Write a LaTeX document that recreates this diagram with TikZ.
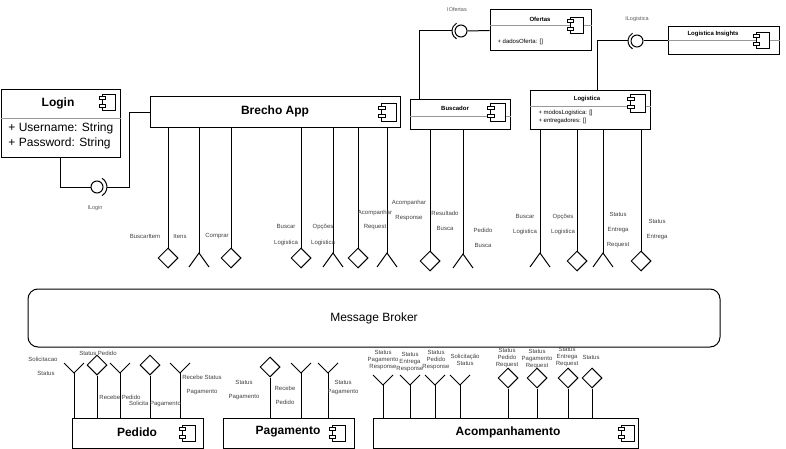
\documentclass[tikz,border=0pt]{standalone}
\usepackage{fontspec}
\setmainfont{Liberation Sans}
\usetikzlibrary{calc,shapes.geometric}
\tikzset{
  compicon/.pic={
    \draw[line width=0.8pt, fill=white] (-0.3,-0.5) rectangle (0.5,0.5);
    \draw[line width=0.8pt, fill=white] (-0.5,-0.32) rectangle (-0.1,-0.14);
    \draw[line width=0.8pt, fill=white] (-0.5,0.14) rectangle (-0.1,0.32);
  }
}
\begin{document}
\begin{tikzpicture}[x=1pt,y=-1pt, line width=1pt,
  box/.style 2 args={draw, line width=1pt, fill=white, minimum width=#1pt, minimum height=#2pt, inner sep=0pt},
  title/.style={font=\bfseries\fontsize{12}{14}\selectfont, inner sep=0pt},
  stitle/.style={font=\bfseries\fontsize{6}{7}\selectfont, inner sep=0pt},
  attr/.style={font=\fontsize{12}{15}\selectfont, inner sep=0pt, anchor=west},
  sattr/.style={font=\fontsize{6}{8}\selectfont, inner sep=0pt, anchor=west},
  lbl/.style={font=\fontsize{6}{#1}\selectfont, text=black!75, align=center, inner sep=0pt},
  lbl/.default=7,
  divider/.style={draw=black!40, line width=0.6pt},
  dia/.style={draw, diamond, minimum width=20pt, minimum height=20pt, inner sep=0pt, fill=white},
  ball/.style={draw, circle, minimum size=12pt, inner sep=0pt},
  ifc/.style={font=\fontsize{5.5}{6}\selectfont, text=black!65, inner sep=0pt}
]
\useasboundingbox (0,0) rectangle (786,449);

% ---------- Login ----------
\node[box={119}{68}] (login) at (60.5,124) {};
\draw[divider] ($(login.north west)+(0,29)$) -- ($(login.north east)+(0,29)$);
\node[title] (loginT) at (58,103) {Login};
\pic[scale=16] at (107,102) {compicon};
\node[attr] (loginA) at (8,128) {+ Username: String};
\node[attr] (loginB) at (8,143) {+ Password: String};

% ---------- Brecho App ----------
\node[box={250}{31}] (brecho) at (275,112.5) {};
\node[title] (brechoT) at (275,111) {Brecho App};
\pic[scale=18] at (387,112) {compicon};

% ---------- Buscador ----------
\node[box={100}{30}] (buscador) at (460,115) {};
\draw[divider] ($(buscador.north west)+(0,17)$) -- ($(buscador.north east)+(0,17)$);
\node[stitle] (buscadorT) at (455,108) {Buscador};
\pic[scale=18] at (496,112) {compicon};

% ---------- Ofertas ----------
\node[box={101}{41}] (ofertas) at (540.5,30.5) {};
\draw[divider] ($(ofertas.north west)+(0,16)$) -- ($(ofertas.north east)+(0,16)$);
\node[stitle] (ofertasT) at (540,19) {Ofertas};
\pic[scale=16] at (575,25) {compicon};
\node[sattr] (ofertasA) at (497,42) {+ dadosOferta: []};

% ---------- Logistica ----------
\node[box={120}{39}] (logistica) at (590,110.5) {};
\draw[divider] ($(logistica.north west)+(0,16)$) -- ($(logistica.north east)+(0,16)$);
\node[stitle] (logisticaT) at (587,99) {Logistica};
\pic[scale=18] at (636,103) {compicon};
\node[sattr] (logisticaA) at (538,113) {+ modosLogistica: []};
\node[sattr] (logisticaB) at (538,121) {+ entregadores: []};

% ---------- Logistica Insights ----------
\node[box={111}{28}] (insights) at (723.5,41) {};
\draw[divider] ($(insights.north west)+(0,14)$) -- ($(insights.north east)+(0,14)$);
\node[stitle] (insightsT) at (713,34) {Logistica Insights};
\pic[scale=16] at (761,40) {compicon};

% ---------- Interfaces ----------
\node[ball] (ilogin) at (97,187) {};
\draw (ilogin.center) ++(60:10) arc[start angle=60, end angle=-60, radius=10];
\coordinate (sockL) at ($(ilogin.center)+(10,0)$);
\node[ifc] (iloginT) at (95,208) {ILogin};
\draw (login.south) |- (ilogin.west);
\draw (sockL) -| ($(brecho.west)+(-20,0)$) -- (brecho.west);

\node[ball] (iofertas) at (461,31) {};
\draw (iofertas.center) ++(120:9) arc[start angle=120, end angle=240, radius=9];
\coordinate (sockO) at ($(iofertas.center)+(-9,0)$);
\node[ifc] (iofertasT) at (457,10) {IOfertas};
\draw ($(buscador.north west)+(10,0)$) |- (sockO);
\draw (iofertas.east) -- (ofertas.west);

\node[ball] (ilog) at (637,41) {};
\draw (ilog.center) ++(120:9) arc[start angle=120, end angle=240, radius=9];
\coordinate (sockG) at ($(ilog.center)+(-9,0)$);
\node[ifc] (ilogT) at (637,19) {ILogistica};
\draw ($(logistica.north west)+(68,0)$) |- (sockG);
\draw (ilog.east) -- (insights.west);

% ---------- Message Broker ----------
\node[draw, rounded corners=10pt, minimum width=692pt, minimum height=58pt, inner sep=0pt,
      font=\fontsize{12}{14}\selectfont] (mb) at (374,318) {Message Broker};

% ---------- Bottom components ----------
\node[box={131}{30}] (pedido) at (137.5,433) {};
\node[title] (pedidoT) at (137,432) {Pedido};
\pic[scale=16] at (187,433) {compicon};

\node[box={131}{30}] (pagamento) at (288.5,433) {};
\node[title] (pagamentoT) at (288,432) {Pagamento};
\pic[scale=16] at (337,433) {compicon};

\node[box={265}{30}] (acomp) at (505.5,433) {};
\node[title] (acompT) at (508,432) {Acompanhamento};
\pic[scale=16] at (626,433) {compicon};

% ---------- Brecho App ports ----------
\foreach \x/\n in {168/a1,231/a3,301/a4,358/a6} {
  \node[dia] (\n) at (\x,258) {};
  \draw (\n.north |- brecho.south) -- (\n.north);
}
\foreach \x/\n in {199/a2,333/a5,387/a7} {
  \coordinate (\n) at (\x,253);
  \draw (\n |- brecho.south) -- (\n);
  \draw (\n) ++(-10,14) -- (\n) -- ++(10,14);
}
% ---------- Buscador ports ----------
\node[dia] (b1) at (430,261) {};
\draw (b1.north |- buscador.south) -- (b1.north);
\coordinate (b2) at (463,254);
\draw (b2 |- buscador.south) -- (b2);
\draw (b2) ++(-10,14) -- (b2) -- ++(10,14);
% ---------- Logistica ports ----------
\foreach \x/\n in {540/g1,603/g3} {
  \coordinate (\n) at (\x,253);
  \draw (\n |- logistica.south) -- (\n);
  \draw (\n) ++(-10,14) -- (\n) -- ++(10,14);
}
\foreach \x/\n in {577/g2,641/g4} {
  \node[dia] (\n) at (\x,261) {};
  \draw (\n.north |- logistica.south) -- (\n.north);
}
% ---------- Pedido ports ----------
\foreach \x/\n in {74/p1,120/p3,180/p5} {
  \coordinate (\n) at (\x,373);
  \draw (\n) -- (\n |- pedido.north);
  \draw (\n) ++(-10,-10) -- (\n) -- ++(10,-10);
}
\foreach \x/\n in {97/p2,150/p4} {
  \node[dia] (\n) at (\x,365) {};
  \draw (\n.south) -- (\n.south |- pedido.north);
}
% ---------- Pagamento ports ----------
\node[dia] (q1) at (270,367) {};
\draw (q1.south) -- (q1.south |- pagamento.north);
\foreach \x/\n in {301/q2,328/q3} {
  \coordinate (\n) at (\x,373);
  \draw (\n) -- (\n |- pagamento.north);
  \draw (\n) ++(-10,-10) -- (\n) -- ++(10,-10);
}
% ---------- Acompanhamento ports ----------
\foreach \x/\n in {383/c1,410/c2,435/c3,460/c4} {
  \coordinate (\n) at (\x,385);
  \draw (\n) -- (\n |- acomp.north);
  \draw (\n) ++(-10,-10) -- (\n) -- ++(10,-10);
}
\foreach \x/\n in {508/c5,537/c6,568/c7,592/c8} {
  \node[dia] (\n) at (\x,378) {};
  \draw (\n.south) -- (\n.south |- acomp.north);
}

% ---------- Labels ----------
\node[lbl] (t1) at (145,236) {BuscarItem};
\node[lbl] (t2) at (180,236) {Itens};
\node[lbl] (t3) at (217,236) {Comprar};
\node[lbl=16] (t4) at (286,235) {Buscar\\Logistica};
\node[lbl=16] (t5) at (323,235) {Opções\\Logistica};
\node[lbl=14] (t6) at (375,220) {Acompanhar\\Request};
\node[lbl=15] (t7) at (409,210.5) {Acompanhar\\Response};
\node[lbl=15] (t8) at (445,220.5) {Resultado\\Busca};
\node[lbl=15] (t9) at (483,237.5) {Pedido\\Busca};
\node[lbl=15] (t10) at (525,224.5) {Buscar\\Logistica};
\node[lbl=15] (t11) at (563,224.5) {Opções\\Logistica};
\node[lbl=15] (t12) at (618,230) {Status\\Entrega\\Request};
\node[lbl=15] (t13) at (657,230) {Status\\Entrega};

\node[lbl] (t14) at (43,359) {Solicitacao};
\node[lbl] (t15) at (46,373) {Status};
\node[lbl] (t16) at (98,353) {Status Pedido};
\node[lbl] (t17) at (120,397) {Recebe Pedido};
\node[lbl] (t18) at (155,404) {Solicita Pagamento};
\node[lbl=14] (t19) at (202,385) {Recebe Status\\Pagamento};
\node[lbl=14] (t20) at (244,390) {Status\\Pagamento};
\node[lbl=14] (t21) at (285,395) {Recebe\\Pedido};
\node[lbl=9] (t22) at (343,387.5) {Status\\Pagamento};
\node[lbl] (t23) at (383,360) {Status\\Pagamento\\Response};
\node[lbl] (t24) at (410,362) {Status\\Entrega\\Response};
\node[lbl] (t25) at (436,360) {Status\\Pedido\\Response};
\node[lbl] (t26) at (465,359.5) {Solicitação\\Status};
\node[lbl] (t27) at (507,358) {Status\\Pedido\\Request};
\node[lbl] (t28) at (537,359) {Status\\Pagamento\\Request};
\node[lbl] (t29) at (567,357) {Status\\Entrega\\Request};
\node[lbl] (t30) at (591,357) {Status};
\end{tikzpicture}
\end{document}
